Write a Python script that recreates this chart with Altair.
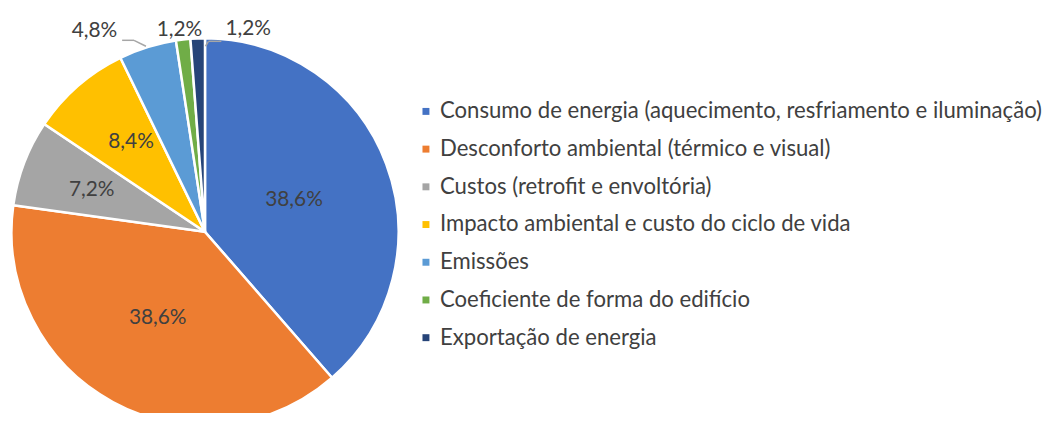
import math
import altair as alt
import pandas as pd

categories = [
    "Consumo de energia (aquecimento, resfriamento e iluminação)",
    "Desconforto ambiental (térmico e visual)",
    "Custos (retrofit e envoltória)",
    "Impacto ambiental e custo do ciclo de vida",
    "Emissões",
    "Coeficiente de forma do edifício",
    "Exportação de energia",
]
values = [38.6, 38.6, 7.2, 8.4, 4.8, 1.2, 1.2]
labels = ["38,6%", "38,6%", "7,2%", "8,4%", "4,8%", "1,2%", "1,2%"]
colors = ["#4472C4", "#ED7D31", "#A5A5A5", "#FFC000", "#5B9BD5", "#70AD47", "#264478"]

df = pd.DataFrame({
    "cat": categories,
    "value": values,
    "label": labels,
    "order": list(range(len(categories))),
})
total = sum(values)

CX, CY, R = 198.5, 224, 195
TXT = "#404040"
FONT = "Lato"

theta_scale = alt.Scale(domain=[0, total], range=[0, 2 * math.pi])

base = alt.Chart(df)

pie = base.mark_arc(outerRadius=R, stroke="white", strokeWidth=2.5).encode(
    theta=alt.Theta("value:Q", stack=True, scale=theta_scale),
    order=alt.Order("order:Q"),
    color=alt.Color(
        "cat:N",
        scale=alt.Scale(domain=categories, range=colors),
        sort=categories,
        legend=alt.Legend(
            orient="none", legendX=410, legendY=91.5, title=None,
            symbolType="square", symbolSize=49, symbolStrokeWidth=0,
            labelFont=FONT, labelFontSize=22.3, labelColor=TXT,
            labelLimit=0, rowPadding=15.0, labelOffset=3, padding=0,
        ),
    ),
    x=alt.value(CX),
    y=alt.value(CY),
)


def pct_label(idx, radius, dx, dy):
    return base.transform_window(
        cum="sum(value)", sort=[alt.SortField("order")], frame=[None, 0]
    ).transform_calculate(
        mid="datum.cum - datum.value / 2"
    ).transform_filter(
        f"datum.order == {idx}"
    ).mark_text(
        radius=radius, dx=dx, dy=dy, font=FONT, fontSize=21, color=TXT,
        align="center", baseline="middle",
    ).encode(
        theta=alt.Theta("mid:Q", stack=None, scale=theta_scale),
        text="label:N",
        x=alt.value(CX),
        y=alt.value(CY),
    )


texts = [
    pct_label(0, 115, -18, 8),
    pct_label(1, 100, 0, -1),
    pct_label(2, 120, -2, 1),
    pct_label(3, 115, 1, -4),
    pct_label(4, 215, -47.5, 3),
    pct_label(5, 210, -2, 5),
    pct_label(6, 210, 51.5, 6),
]


def seg(x1, y1, x2, y2):
    return base.transform_filter("datum.order == 0").mark_rule(
        color="#A6A6A6", strokeWidth=1.5
    ).encode(x=alt.value(x1), y=alt.value(y1), x2=alt.value(x2), y2=alt.value(y2))


leaders = [
    seg(115, 31, 127, 31),
    seg(127, 31, 139, 37),
    seg(199, 37, 202, 32),
    seg(202, 32, 215, 32),
]

chart = alt.layer(pie, *leaders, *texts).properties(
    width=1053, height=405, autosize=alt.AutoSizeParams(type="none"), padding=0
).configure_view(stroke=None)

chart.save("out.html", embed_options={"renderer": "svg", "actions": False})
